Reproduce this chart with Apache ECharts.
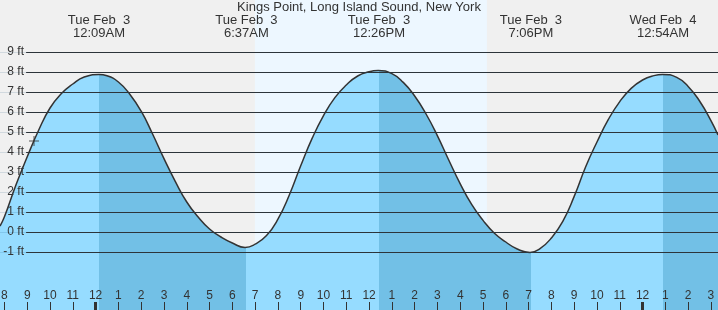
<!DOCTYPE html>
<html><head><meta charset="utf-8">
<script src="https://cdn.jsdelivr.net/npm/echarts@6/dist/echarts.min.js"></script>
<style>html,body{margin:0;padding:0;background:#f0f0f0}#c{width:718px;height:310px}</style>
</head><body><div id="c"></div>
<script>
const titleText = 'Kings Point, Long Island Sound, New York';
// hours relative to midnight Tue Feb 3, heights in feet
const tideHours = [-4.195, -4.0, -3.5, -3.0, -2.5, -2.0, -1.5, -1.0, -0.5, 0.149, 0.5, 1.0, 1.5, 2.0, 2.5, 3.0, 3.5, 4.0, 4.5, 5.0, 5.5, 6.0, 6.556, 7.0, 7.5, 8.0, 8.5, 9.0, 9.5, 10.0, 10.5, 11.0, 11.5, 12.0, 12.405, 13.0, 13.5, 14.0, 14.5, 15.0, 15.5, 16.0, 16.5, 17.0, 17.5, 18.0, 18.5, 19.061, 19.5, 20.0, 20.5, 21.0, 21.5, 22.0, 22.5, 23.0, 23.5, 24.0, 24.5, 24.884, 25.5, 26.0, 26.5, 27.0, 27.31];
const tideFeet = [0.3, 0.76, 2.34, 3.76, 5.09, 6.2, 6.92, 7.4, 7.75, 7.87, 7.81, 7.5, 6.89, 6.04, 4.9, 3.67, 2.52, 1.5, 0.75, 0.15, -0.25, -0.55, -0.77, -0.61, -0.18, 0.64, 1.85, 3.31, 4.68, 5.82, 6.72, 7.35, 7.8, 8.01, 8.07, 7.92, 7.48, 6.8, 5.9, 4.81, 3.59, 2.41, 1.38, 0.58, -0.06, -0.5, -0.85, -1.02, -0.83, -0.3, 0.53, 1.78, 3.25, 4.5, 5.63, 6.52, 7.18, 7.6, 7.82, 7.88, 7.73, 7.28, 6.55, 5.57, 4.85];
const extremeHours = [0.15, 6.617, 12.433, 19.1, 24.9];
const extremeLabels = ['Tue Feb  3\n12:09AM', 'Tue Feb  3\n6:37AM', 'Tue Feb  3\n12:26PM', 'Tue Feb  3\n7:06PM', 'Wed Feb  4\n12:54AM'];
const hourTicks = [-4, -3, -2, -1, 0, 1, 2, 3, 4, 5, 6, 7, 8, 9, 10, 11, 12, 13, 14, 15, 16, 17, 18, 19, 20, 21, 22, 23, 24, 25, 26, 27];
const midnightTicks = [0, 24];
const ftTicks = [-1, 0, 1, 2, 3, 4, 5, 6, 7, 8, 9];
const daylight = [6.99, 17.17];
const nowPoint = [-2.703, 4.55];

const xMin = -4.195, xMax = 27.31, yMin = -3.9, yMax = 11.6;
const gridLineStart = -3.05;
const tickLen = 0.4; // ft (8 px)
const FONT = '"Liberation Sans", Arial, sans-serif';
const LIGHT = '#96dcff', DARK = '#72c0e6';

function fmtHour(v) {
  const h = ((Math.round(v) % 12) + 12) % 12;
  return h === 0 ? '12' : String(h);
}
const pieces = [];
const bounds = [-Infinity].concat(extremeHours, [Infinity]);
for (let i = 0; i < bounds.length - 1; i++) {
  const p = { color: i % 2 === 0 ? LIGHT : DARK };
  if (isFinite(bounds[i])) p.gte = bounds[i];
  if (isFinite(bounds[i + 1])) p.lt = bounds[i + 1];
  pieces.push(p);
}
const tideData = tideHours.map((h, i) => [h, tideFeet[i]]);
const thinTicks = hourTicks.filter(h => midnightTicks.indexOf(h) < 0);

const chart = echarts.init(document.getElementById('c'));
chart.setOption({
  animation: false,
  backgroundColor: '#f0f0f0',
  title: { text: titleText, left: 'center', top: 1, padding: 0, textStyle: { fontSize: 13, fontWeight: 'normal', color: '#333', fontFamily: FONT } },
  grid: { left: 0, right: 0, top: 0, bottom: 0, outerBoundsMode: 'none' },
  xAxis: [
    { type: 'value', min: xMin, max: xMax, position: 'bottom', z: 10,
      axisLine: { show: false }, splitLine: { show: false }, axisTick: { show: false },
      axisLabel: { show: true, inside: true, customValues: hourTicks, margin: 8, formatter: fmtHour, color: '#333', fontSize: 12, fontFamily: FONT } },
    { type: 'value', min: xMin, max: xMax, position: 'top', z: 10,
      axisLine: { show: false }, splitLine: { show: false }, axisTick: { show: false },
      axisLabel: { show: true, inside: true, customValues: extremeHours, margin: 14, lineHeight: 13,
        formatter: v => extremeLabels[extremeHours.indexOf(v)], color: '#333', fontSize: 13, fontFamily: FONT } }
  ],
  yAxis: { type: 'value', min: yMin, max: yMax, z: 10,
    axisLine: { show: false }, axisTick: { show: false }, splitLine: { show: false },
    axisLabel: { inside: true, customValues: ftTicks, margin: 24, align: 'right', formatter: v => v + ' ft', color: '#333', fontSize: 12, fontFamily: FONT } },
  visualMap: { show: false, type: 'piecewise', dimension: 0, seriesIndex: 1, pieces: pieces },
  series: [
    { type: 'line', z: 0, data: tideData, showSymbol: false, silent: true, lineStyle: { opacity: 0 },
      markArea: { silent: true, itemStyle: { color: '#edf7ff' }, data: [[{ xAxis: daylight[0] }, { xAxis: daylight[1] }]] },
      markLine: { silent: true, symbol: 'none', label: { show: false }, lineStyle: { color: '#333', width: 1, type: 'solid' },
        data: ftTicks.map(v => [{ coord: [gridLineStart, v] }, { coord: [xMax, v] }]) } },
    { type: 'line', z: 2, data: tideData, smooth: 0.5, showSymbol: false, silent: true,
      lineStyle: { color: '#333', width: 1.5 }, areaStyle: { opacity: 1, origin: 'start' },
      markLine: { silent: true, symbol: 'none', label: { show: false }, lineStyle: { color: 'rgba(0,60,110,0.13)', width: 1, type: 'solid' },
        data: ftTicks.map(v => [{ coord: [xMin, v] }, { coord: [xMax, v] }]) } },
    { type: 'scatter', z: 5, data: [nowPoint], silent: true,
      symbol: 'path://M0,4.5h10v1h-10z M4.5,0h1v10h-1z', symbolSize: 10, itemStyle: { color: '#333' },
      markLine: { silent: true, symbol: 'none', label: { show: false }, lineStyle: { color: '#333', width: 3, type: 'solid' },
        data: midnightTicks.map(h => [{ coord: [h, yMin] }, { coord: [h, yMin + tickLen] }]) } },
    { type: 'scatter', z: 6, data: [nowPoint], silent: true, symbolSize: 0,
      markLine: { silent: true, symbol: 'none', label: { show: false }, lineStyle: { color: '#333', width: 1, type: 'solid' },
        data: thinTicks.map(h => [{ coord: [h, yMin] }, { coord: [h, yMin + tickLen] }]) } }
  ]
});
</script></body></html>
